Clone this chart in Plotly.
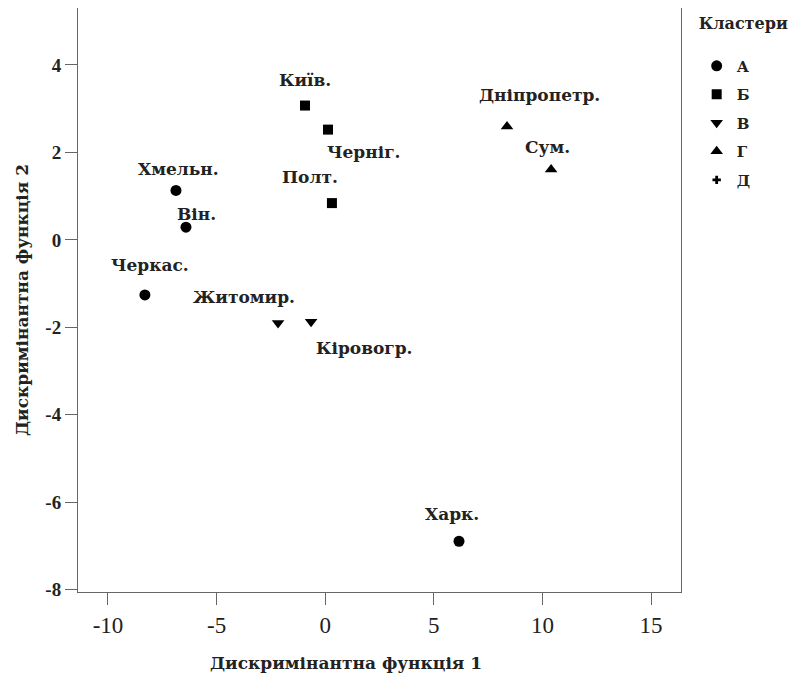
import plotly.graph_objects as go

# Data
regions = ["Хмельн.", "Він.", "Черкас.", "Харк.", "Київ.", "Черніг.", "Полт.",
           "Житомир.", "Кіровогр.", "Дніпропетр.", "Сум."]
func1 = [-6.87, -6.41, -8.30, 6.16, -0.93, 0.13, 0.31, -2.17, -0.65, 8.37, 10.40]
func2 = [1.13, 0.29, -1.26, -6.89, 3.07, 2.52, 0.84, -1.90, -1.87, 2.59, 1.61]
cluster = ["А", "А", "А", "А", "Б", "Б", "Б", "В", "В", "Г", "Г"]
cluster_names = ["А", "Б", "В", "Г", "Д"]
x_ticks = [-10, -5, 0, 5, 10, 15]
y_ticks = [4, 2, 0, -2, -4, -6, -8]
x_title = "Дискримінантна функція 1"
y_title = "Дискримінантна функція 2"
legend_title = "Кластери"

# Styles
symbols = {"А": "circle", "Б": "square", "В": "triangle-down", "Г": "triangle-up", "Д": "cross"}
sizes = {"А": 11, "Б": 10, "В": 11, "Г": 11, "Д": 7}
label_shift = {  # pixel offsets of labels from their points
    "Хмельн.": (3, 21), "Він.": (11, 13), "Черкас.": (5, 30), "Харк.": (-7, 27),
    "Київ.": (0, 26), "Черніг.": (35, -22), "Полт.": (-22, 26), "Житомир.": (-34, 26),
    "Кіровогр.": (53, -26), "Дніпропетр.": (32, 32), "Сум.": (-4, 22),
}
SERIF_W = "DejaVu Serif"
SERIF_N = "Liberation Serif"
INK = "#222"
LINE = "#666"

fig = go.Figure()
for c in cluster_names:
    xs = [x for x, k in zip(func1, cluster) if k == c]
    ys = [y for y, k in zip(func2, cluster) if k == c]
    if not xs:
        xs, ys = [None], [None]
    fig.add_trace(go.Scatter(
        x=xs, y=ys, mode="markers", name="<b>%s</b>" % c, legendgroup=c,
        marker=dict(symbol=symbols[c], size=sizes[c], color="black",
                    line=dict(width=0)),
    ))

for name, x, y in zip(regions, func1, func2):
    dx, dy = label_shift[name]
    fig.add_annotation(x=x, y=y, text="<b>%s</b>" % name, showarrow=False, xshift=dx, yshift=dy,
                       font=dict(family=SERIF_W, size=17, color=INK))

# x-axis title (sits left of the plot centre in the original)
fig.add_annotation(xref="paper", yref="paper", x=0.444, y=-0.1216, xanchor="center",
                   yanchor="middle", showarrow=False, text="<b>%s</b>" % x_title,
                   font=dict(family=SERIF_W, size=17, color=INK))

fig.update_layout(
    width=800, height=671,
    margin=dict(l=70, r=127, t=0, b=87),
    plot_bgcolor="white", paper_bgcolor="white",
    font=dict(family=SERIF_W, size=15, color=INK),
    legend=dict(
        title=dict(text="<b>%s</b><br> " % legend_title, font=dict(family=SERIF_W, size=16, color=INK)),
        x=1.026, y=1.0, xanchor="left", yanchor="top",
        font=dict(family=SERIF_W, size=15, color=INK), tracegroupgap=6,
        bgcolor="rgba(0,0,0,0)",
    ),
)
fig.update_xaxes(
    range=[-11.38, 16.38], tickvals=x_ticks, ticktext=[str(v) for v in x_ticks],
    showgrid=False, zeroline=False, showline=True, linecolor=LINE, linewidth=1,
    mirror=True, ticks="outside", ticklen=12, tickcolor=LINE, automargin=False,
    tickfont=dict(family=SERIF_N, size=23, color=INK),
)
fig.update_yaxes(
    range=[-8.05, 5.30], tickvals=y_ticks, ticktext=["<b>%d</b>" % v for v in y_ticks],
    showgrid=False, zeroline=False, showline=True, linecolor=LINE, linewidth=1,
    mirror=True, ticks="outside", ticklen=12, tickcolor=LINE, automargin=False,
    tickfont=dict(family=SERIF_N, size=19, color=INK),
    title=dict(text="<b>%s</b>" % y_title,
               font=dict(family=SERIF_W, size=17, color=INK), standoff=12),
)

fig.write_html("out.html")
